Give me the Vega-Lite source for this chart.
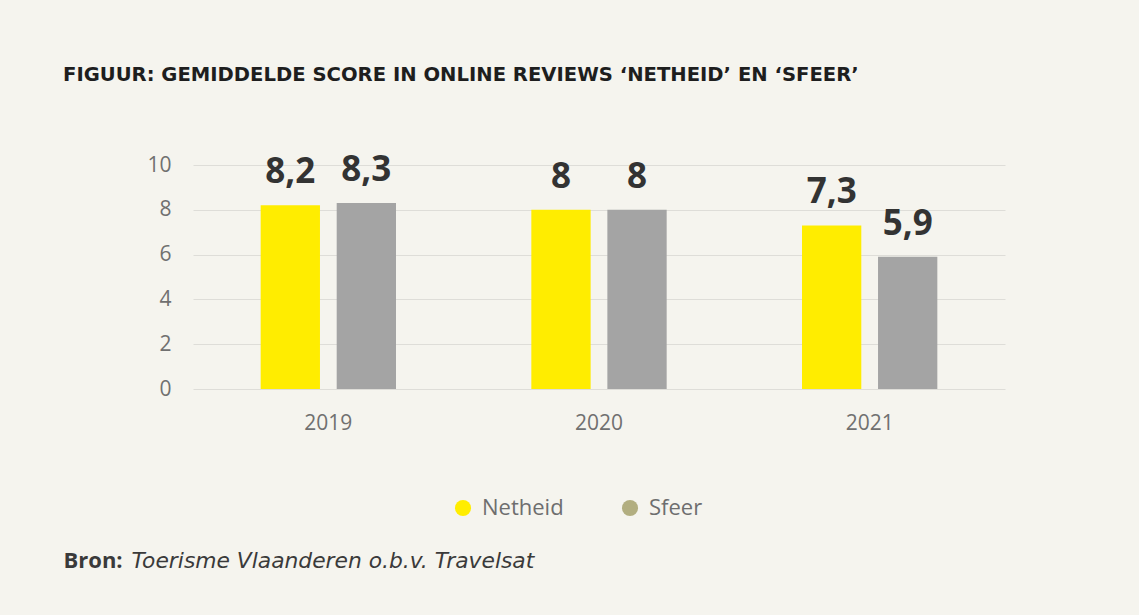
{
  "$schema": "https://vega.github.io/schema/vega-lite/v6.json",
  "width": 812,
  "height": 224,
  "autosize": "none",
  "padding": {"left": 193, "top": 165, "right": 134, "bottom": 226},
  "background": "#F5F4EE",
  "config": {
    "locale": {"number": {"decimal": ",", "thousands": ".", "grouping": [3], "currency": ["€", ""]}},
    "font": "Open Sans",
    "view": {"stroke": null}
  },
  "title": {
    "text": "FIGUUR: GEMIDDELDE SCORE IN ONLINE REVIEWS ‘NETHEID’ EN ‘SFEER’",
    "anchor": "start",
    "frame": "group",
    "dx": -130,
    "offset": 67,
    "fontSize": 19.6,
    "fontWeight": "bold",
    "color": "#1E1E1E",
    "font": "DejaVu Sans"
  },
  "data": {
    "values": [
      {"year": "2019", "series": "Netheid", "value": 8.2},
      {"year": "2019", "series": "Sfeer", "value": 8.3},
      {"year": "2020", "series": "Netheid", "value": 8},
      {"year": "2020", "series": "Sfeer", "value": 8},
      {"year": "2021", "series": "Netheid", "value": 7.3},
      {"year": "2021", "series": "Sfeer", "value": 5.9}
    ]
  },
  "encoding": {
    "x": {
      "field": "year",
      "type": "nominal",
      "scale": {"paddingInner": 0.5, "paddingOuter": 0.25},
      "axis": {
        "labelAngle": 0,
        "labelFontSize": 21,
        "labelColor": "#707070",
        "labelPadding": 23,
        "ticks": false,
        "domain": false,
        "title": "Toerisme Vlaanderen o.b.v. Travelsat",
        "titleFont": "DejaVu Sans",
        "titleFontStyle": "italic",
        "titleFontWeight": "normal",
        "titleFontSize": 21.8,
        "titleColor": "#3A3A3A",
        "titleX": -62,
        "titleY": 178,
        "titleAlign": "left",
        "titleAnchor": null,
        "titleBaseline": "alphabetic"
      }
    },
    "xOffset": {"field": "series", "type": "nominal", "scale": {"paddingInner": 0.22}},
    "y": {
      "field": "value",
      "type": "quantitative",
      "scale": {"domain": [0, 10]},
      "axis": {
        "tickCount": 5,
        "labelFontSize": 21,
        "labelColor": "#707070",
        "labelPadding": 22,
        "ticks": false,
        "domain": false,
        "gridColor": "#DEDDD8",
        "gridWidth": 1.2,
        "title": "Bron:",
        "titleFont": "Open Sans",
        "titleAngle": 0,
        "titleFontWeight": "bold",
        "titleFontSize": 22,
        "titleColor": "#3A3A3A",
        "titleX": -130,
        "titleY": 402,
        "titleAlign": "left",
        "titleAnchor": null,
        "titleBaseline": "alphabetic"
      }
    }
  },
  "layer": [
    {
      "mark": {"type": "bar"},
      "encoding": {
        "color": {
          "field": "series",
          "type": "nominal",
          "scale": {"domain": ["Netheid", "Sfeer"], "range": ["#FFED00", "#A4A4A4"]},
          "legend": null
        }
      }
    },
    {
      "mark": {"type": "text", "baseline": "alphabetic", "dy": -22, "fontSize": 35, "fontWeight": "bold", "color": "#333333"},
      "encoding": {
        "text": {"field": "value", "type": "quantitative", "format": ".1~f"}
      }
    },
    {
      "mark": {"type": "point", "filled": true, "opacity": 0},
      "encoding": {
        "color": {
          "field": "series",
          "type": "nominal",
          "scale": {"domain": ["Netheid", "Sfeer"], "range": ["#FFED00", "#B2AE80"]},
          "legend": {
            "title": null,
            "orient": "none",
            "direction": "horizontal",
            "legendX": 259,
            "legendY": 332,
            "symbolType": "circle",
            "symbolSize": 260,
            "symbolOpacity": 1,
            "symbolStrokeWidth": 0,
            "labelFontSize": 22,
            "labelColor": "#6E6E6E",
            "labelOffset": 8,
            "columnPadding": 55
          }
        }
      }
    }
  ],
  "resolve": {"scale": {"color": "independent"}}
}
